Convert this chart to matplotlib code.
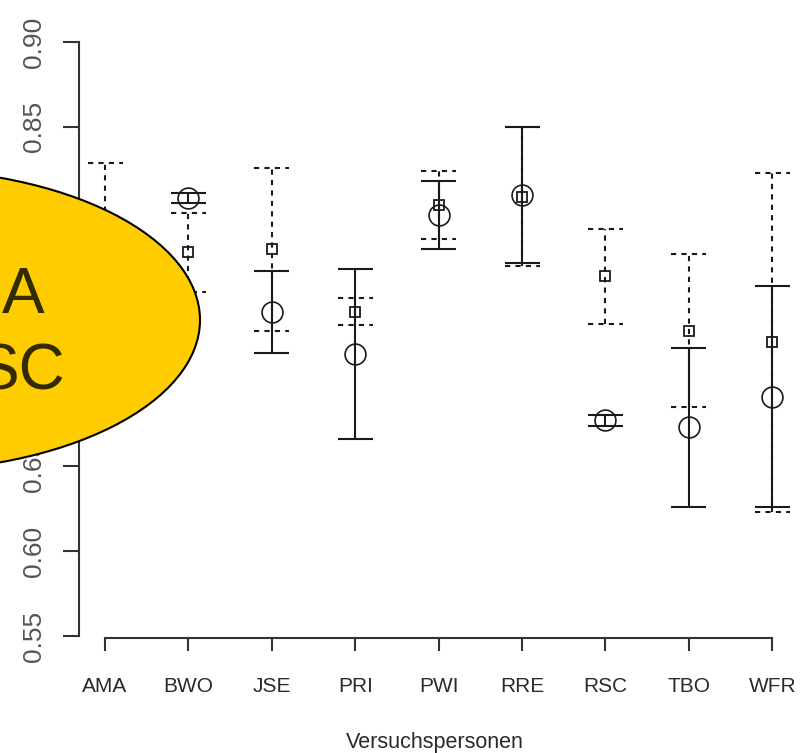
import matplotlib
matplotlib.use("Agg")
import matplotlib.pyplot as plt
from matplotlib.patches import Ellipse

plt.rcParams['font.family'] = ['Liberation Sans', 'DejaVu Sans']

# --- data ---
subjects = ['AMA', 'BWO', 'JSE', 'PRI', 'PWI', 'RRE', 'RSC', 'TBO', 'WFR']
circle_mean = [0.760, 0.808, 0.741, 0.716, 0.798, 0.810, 0.677, 0.673, 0.691]
circle_err = [0.025, 0.003, 0.024, 0.050, 0.020, 0.040, 0.0035, 0.047, 0.065]
square_mean = [0.790, 0.776, 0.778, 0.741, 0.804, 0.809, 0.762, 0.730, 0.723]
square_err = [0.039, 0.023, 0.048, 0.008, 0.020, 0.041, 0.028, 0.045, 0.100]
yticks = [0.55, 0.60, 0.65, 0.70, 0.75, 0.80, 0.85, 0.90]
ytick_labels = ['0.55', '0.60', '0.65', '0.70', '0.75', '0.80', '0.85', '0.90']

fig = plt.figure(figsize=(8, 7.53), dpi=100)
ax = fig.add_axes([0.09875, 0.1527, 0.8888, 0.8207])

x = list(range(len(subjects)))
cap = 0.21
ink = '#1a1a1a'

# solid bars (circles)
lo = [m - e for m, e in zip(circle_mean, circle_err)]
hi = [m + e for m, e in zip(circle_mean, circle_err)]
ax.vlines(x, lo, hi, color=ink, lw=1.5)
ax.hlines(lo, [i - cap for i in x], [i + cap for i in x], color=ink, lw=1.5)
ax.hlines(hi, [i - cap for i in x], [i + cap for i in x], color=ink, lw=1.5)
ax.plot(x, circle_mean, 'o', ms=15, mfc='none', mec=ink, mew=1.2)

# dashed bars (squares)
lo = [m - e for m, e in zip(square_mean, square_err)]
hi = [m + e for m, e in zip(square_mean, square_err)]
dash = (0, (2.5, 2.5))
ax.vlines(x, lo, hi, color=ink, lw=1.5, linestyles=[dash])
ax.hlines(lo, [i - cap for i in x], [i + cap for i in x], color=ink, lw=1.5, linestyles=[dash])
ax.hlines(hi, [i - cap for i in x], [i + cap for i in x], color=ink, lw=1.5, linestyles=[dash])
ax.plot(x, square_mean, 's', ms=7, mfc='none', mec=ink, mew=1.3)

ax.set_xlim(-0.312, 8.213)
ax.set_ylim(0.5488, 0.913)

for s in ['top', 'right']:
    ax.spines[s].set_visible(False)
ax.spines['left'].set_bounds(0.55, 0.90)
ax.spines['bottom'].set_bounds(0, 8)
for s in ['left', 'bottom']:
    ax.spines[s].set_linewidth(1.5)
    ax.spines[s].set_color('#333333')

ax.set_xticks(x)
ax.set_xticklabels(subjects, fontsize=15, color='#2a2a2a')
ax.set_yticks(yticks)
ax.set_yticklabels(ytick_labels, fontsize=19, color='#555555', rotation=90, va='center')
ax.tick_params(axis='x', length=9, width=1.5, color='#333333', pad=19)
ax.tick_params(axis='y', length=11.5, width=1.5, color='#333333', pad=12)
ax.set_xlabel('Versuchspersonen', fontsize=15.5, color='#2a2a2a', labelpad=26)

# yellow callout over the left side
ell = Ellipse((-0.125, 0.575), 0.75, 0.401, transform=fig.transFigure,
              facecolor='#ffcc00', edgecolor='black', lw=1.5, clip_on=False)
fig.add_artist(ell)
fig.text(45 / 800, 1 - 313 / 753, 'A', fontsize=46, color='#332b00',
         ha='right', va='baseline')
fig.text(65 / 800, 1 - 390 / 753, 'SC', fontsize=46, color='#332b00',
         ha='right', va='baseline')

fig.savefig('out.png', dpi=100)
